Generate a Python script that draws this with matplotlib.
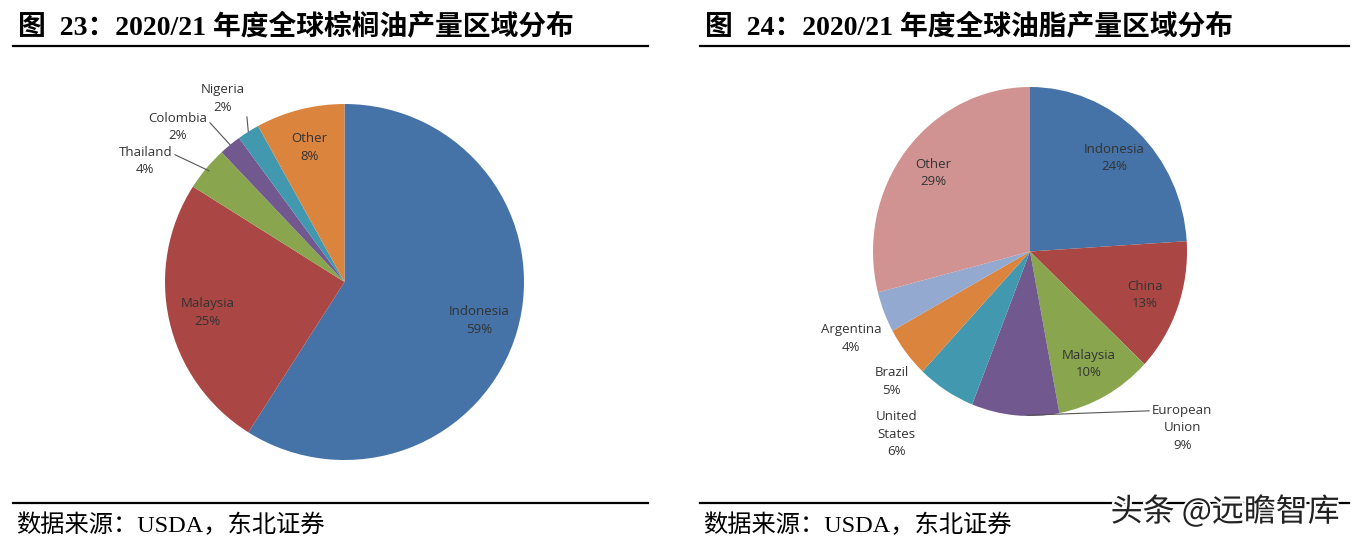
import numpy as np
import matplotlib.pyplot as plt
from matplotlib import patheffects

# left pie: palm oil production by region
palm_names = ['Indonesia', 'Malaysia', 'Thailand', 'Colombia', 'Nigeria', 'Other']
palm_share = [59, 25, 4, 2, 2, 8]
palm_colors = ['#4572A7', '#AA4643', '#89A54E', '#71588F', '#4198AF', '#DB843D']

# right pie: oils & fats production by region
fat_names = ['Indonesia', 'China', 'Malaysia', 'European\nUnion', 'United\nStates',
             'Brazil', 'Argentina', 'Other']
fat_share = [24, 13, 10, 9, 6, 5, 4, 29]
fat_colors = ['#4572A7', '#AA4643', '#89A54E', '#71588F', '#4198AF',
              '#DB843D', '#93A9CF', '#D19392']

title_left = '图  23：2020/21 年度全球棕榈油产量区域分布'
title_right = '图  24：2020/21 年度全球油脂产量区域分布'
source = '数据来源：USDA，东北证券'

cjk = ['Liberation Serif', 'Noto Sans CJK SC']
lab_font = 'Open Sans'
lab_col = '#333333'
lab_size = 9.5

W, H = 1353, 545
fig = plt.figure(figsize=(W / 100, H / 100), dpi=100)


def px_axes(x0, y0, x1, y1):
    return fig.add_axes([x0 / W, 1 - y1 / H, (x1 - x0) / W, (y1 - y0) / H])


def draw_pie(ax, shares, colors, names, outside, leaders):
    wedges, _ = ax.pie(shares, colors=colors, startangle=90, counterclock=False,
                       wedgeprops=dict(linewidth=0))
    ax.set_aspect('auto')
    ax.set_xlim(-1, 1)
    ax.set_ylim(-1, 1)
    ax.axis('off')
    for w, name, share in zip(wedges, names, shares):
        mid = np.deg2rad((w.theta1 + w.theta2) / 2)
        txt = f'{name}\n{share}%'
        kw = dict(ha='center', va='center', fontsize=lab_size, family=lab_font,
                  color=lab_col, linespacing=1.45)
        if name in outside:
            tx, ty = outside[name]
            if name in leaders:
                ex, ey = leaders[name]
                edge = (np.cos(mid) * ex, np.sin(mid) * ey)
                ax.annotate(txt, xy=edge, xytext=(tx, ty), annotation_clip=False,
                            arrowprops=dict(arrowstyle='-', color='#555555', lw=0.8,
                                            shrinkA=0, shrinkB=0,
                                            relpos=(1, 0.75) if tx < 0 else (0, 0.85)),
                            **kw)
            else:
                ax.text(tx, ty, txt, **kw)
        else:
            ax.text(np.cos(mid) * 0.78, np.sin(mid) * 0.78, txt, **kw)


ax1 = px_axes(165, 104, 524, 460)
draw_pie(ax1, palm_share, palm_colors, palm_names,
         {'Thailand': (-1.11, 0.68), 'Colombia': (-0.93, 0.87), 'Nigeria': (-0.68, 1.03)},
         {'Thailand': (0.98, 0.98), 'Colombia': (1.0, 1.0), 'Nigeria': (1.0, 1.0)})

ax2 = px_axes(873, 87, 1187, 416)
draw_pie(ax2, fat_share, fat_colors, fat_names,
         {'European\nUnion': (0.97, -1.07), 'United\nStates': (-0.85, -1.11),
          'Brazil': (-0.88, -0.79), 'Argentina': (-1.14, -0.53)},
         {'European\nUnion': (0.2, 1.0)})

# titles, rules and source lines
for x0, x1, title in [(13, 648, title_left), (700, 1349, title_right)]:
    fig.text((x0 + 5) / W, 1 - 28 / H, title, family=cjk, fontweight='bold',
             fontsize=20, va='center', ha='left')
    fig.add_artist(plt.Line2D([x0 / W, x1 / W], [1 - 46 / H] * 2, color='black', lw=1.6))
    fig.add_artist(plt.Line2D([x0 / W, x1 / W], [1 - 503 / H] * 2, color='black', lw=1.6))
    fig.text((x0 + 3) / W, 1 - 525 / H, source, family=cjk, fontsize=17.5,
             va='center', ha='left')

fig.text(1340 / W, 1 - 512 / H, '头条 @远瞻智库', family=['Noto Sans CJK SC'],
         fontsize=23, color='#222222', ha='right', va='center',
         path_effects=[patheffects.withStroke(linewidth=3, foreground='white')])

fig.savefig('out.png', dpi=100)
